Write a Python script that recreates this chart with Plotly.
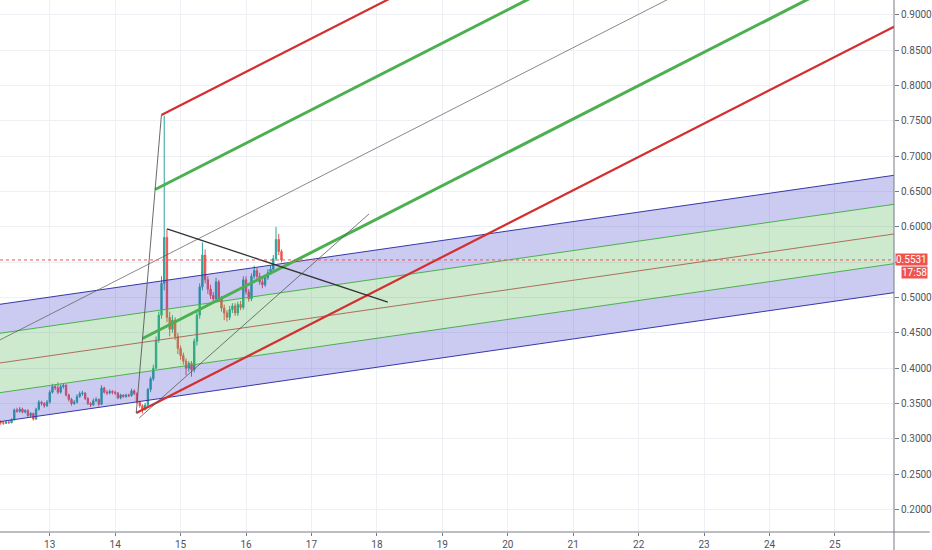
import pandas as pd
import plotly.graph_objects as go

# hourly candles, first one at Feb 12 06:00
candle_start = "2020-02-12 06:00"
opens = [
    0.324, 0.323, 0.322, 0.324, 0.323, 0.327, 0.341, 0.339, 0.342, 0.338,
    0.340, 0.333, 0.336, 0.328, 0.342, 0.352, 0.350, 0.347, 0.352, 0.366,
    0.374, 0.372, 0.366, 0.374, 0.376, 0.362, 0.356, 0.350, 0.352, 0.360,
    0.364, 0.365, 0.357, 0.350, 0.348, 0.354, 0.356, 0.349, 0.372, 0.366,
    0.365, 0.367, 0.366, 0.365, 0.358, 0.362, 0.360, 0.362, 0.361, 0.368,
    0.364, 0.352, 0.347, 0.342, 0.348, 0.370, 0.385, 0.400, 0.440, 0.475,
    0.520, 0.585, 0.472, 0.455, 0.468, 0.445, 0.428, 0.418, 0.410, 0.400,
    0.407, 0.398, 0.438, 0.475, 0.515, 0.560, 0.525, 0.512, 0.503, 0.498,
    0.522, 0.498, 0.485, 0.478, 0.472, 0.483, 0.488, 0.478, 0.490, 0.486,
    0.525, 0.508, 0.498, 0.530, 0.538, 0.530, 0.522, 0.518, 0.528, 0.535,
    0.540, 0.555, 0.582, 0.565,
]
highs = [
    0.326, 0.325, 0.326, 0.326, 0.329, 0.343, 0.344, 0.345, 0.344, 0.342,
    0.342, 0.338, 0.337, 0.344, 0.355, 0.354, 0.352, 0.355, 0.369, 0.378,
    0.377, 0.380, 0.377, 0.379, 0.377, 0.364, 0.358, 0.355, 0.363, 0.367,
    0.368, 0.366, 0.359, 0.352, 0.357, 0.359, 0.357, 0.376, 0.374, 0.369,
    0.370, 0.369, 0.368, 0.366, 0.364, 0.363, 0.364, 0.364, 0.371, 0.370,
    0.366, 0.354, 0.349, 0.351, 0.372, 0.388, 0.405, 0.445, 0.480, 0.530,
    0.757, 0.597, 0.480, 0.475, 0.472, 0.450, 0.432, 0.422, 0.414, 0.410,
    0.410, 0.442, 0.480, 0.520, 0.578, 0.568, 0.530, 0.518, 0.508, 0.528,
    0.525, 0.502, 0.490, 0.482, 0.488, 0.492, 0.492, 0.494, 0.495, 0.530,
    0.530, 0.512, 0.534, 0.545, 0.542, 0.535, 0.526, 0.532, 0.540, 0.545,
    0.560, 0.600, 0.590, 0.568,
]
lows = [
    0.320, 0.320, 0.321, 0.321, 0.322, 0.326, 0.337, 0.337, 0.336, 0.336,
    0.331, 0.331, 0.326, 0.327, 0.340, 0.347, 0.344, 0.345, 0.350, 0.364,
    0.369, 0.363, 0.364, 0.371, 0.360, 0.353, 0.347, 0.348, 0.350, 0.358,
    0.361, 0.355, 0.348, 0.345, 0.347, 0.352, 0.346, 0.348, 0.364, 0.362,
    0.363, 0.363, 0.362, 0.356, 0.356, 0.358, 0.358, 0.359, 0.360, 0.362,
    0.350, 0.344, 0.336, 0.340, 0.346, 0.366, 0.382, 0.398, 0.436, 0.470,
    0.510, 0.465, 0.445, 0.450, 0.440, 0.420, 0.412, 0.405, 0.390, 0.395,
    0.388, 0.394, 0.432, 0.470, 0.510, 0.520, 0.505, 0.498, 0.492, 0.495,
    0.494, 0.480, 0.468, 0.466, 0.468, 0.478, 0.474, 0.474, 0.482, 0.483,
    0.504, 0.494, 0.495, 0.526, 0.526, 0.518, 0.513, 0.515, 0.525, 0.532,
    0.537, 0.552, 0.560, 0.550,
]
closes = [
    0.323, 0.322, 0.324, 0.323, 0.327, 0.341, 0.339, 0.342, 0.338, 0.340,
    0.333, 0.336, 0.328, 0.342, 0.352, 0.350, 0.347, 0.352, 0.366, 0.374,
    0.372, 0.366, 0.374, 0.376, 0.362, 0.356, 0.350, 0.352, 0.360, 0.364,
    0.365, 0.357, 0.350, 0.348, 0.354, 0.356, 0.349, 0.372, 0.366, 0.365,
    0.367, 0.366, 0.365, 0.358, 0.362, 0.360, 0.362, 0.361, 0.368, 0.364,
    0.352, 0.347, 0.342, 0.348, 0.370, 0.385, 0.400, 0.440, 0.475, 0.520,
    0.585, 0.472, 0.455, 0.468, 0.445, 0.428, 0.418, 0.410, 0.400, 0.407,
    0.398, 0.438, 0.475, 0.515, 0.560, 0.525, 0.512, 0.503, 0.498, 0.522,
    0.498, 0.485, 0.478, 0.472, 0.483, 0.488, 0.478, 0.490, 0.486, 0.525,
    0.508, 0.498, 0.530, 0.538, 0.530, 0.522, 0.518, 0.528, 0.535, 0.540,
    0.555, 0.582, 0.565, 0.5531,
]
last_price = 0.5531
countdown = "17:58"

# price axis ticks; the 0.5500 label sits under the last-price tag
price_ticks = [0.20, 0.25, 0.30, 0.35, 0.40, 0.45, 0.50, 0.55,
               0.60, 0.65, 0.70, 0.75, 0.80, 0.85, 0.90]
price_labels = ["0.2000", "0.2500", "0.3000", "0.3500", "0.4000", "0.4500",
                "0.5000", "", "0.6000", "0.6500", "0.7000", "0.7500",
                "0.8000", "0.8500", "0.9000"]

# drawings, points given as (day of month, price)
reg_start = (12.24, 0.4074)
reg_end = (25.90, 0.5898)
reg_inner = 0.042
reg_outer = 0.083

fork_a = (12.0, 0.4287)
fork_b = (14.707, 0.7581)
fork_c = (14.322, 0.3366)

tri_down = [(14.793, 0.5969), (18.167, 0.4936)]
tri_up = [(14.368, 0.3296), (17.878, 0.6181)]

view_days = (12.2401, 25.9027)
view_price = (0.1683, 0.9208)

UP = "#26a69a"
DOWN = "#ef5350"
RED = "#d32f2f"
GREEN = "#4caf50"


def ts(day):
    return pd.Timestamp("2020-02-01") + pd.to_timedelta(day - 1, unit="D")


times = pd.date_range(candle_start, periods=len(closes), freq="h")

fig = go.Figure()

fig.add_trace(go.Candlestick(
    x=times, open=opens, high=highs, low=lows, close=closes,
    increasing=dict(line=dict(color=UP, width=1), fillcolor=UP),
    decreasing=dict(line=dict(color=DOWN, width=1), fillcolor=DOWN),
    whiskerwidth=0, showlegend=False, hoverinfo="skip",
))

# regression channel
slope_reg = (reg_end[1] - reg_start[1]) / (reg_end[0] - reg_start[0])
d0, d1 = 11.5, 26.5
mid0 = reg_start[1] + slope_reg * (d0 - reg_start[0])
mid1 = reg_start[1] + slope_reg * (d1 - reg_start[0])
band = [
    (-reg_outer, "rgb(55,55,170)", None, None),
    (-reg_inner, GREEN, "tonexty", "rgba(70,70,205,0.28)"),
    (0.0, "rgba(170,95,75,0.9)", "tonexty", "rgba(76,175,80,0.28)"),
    (reg_inner, GREEN, "tonexty", "rgba(76,175,80,0.28)"),
    (reg_outer, "rgb(55,55,170)", "tonexty", "rgba(70,70,205,0.28)"),
]
for off, lc, fill, fc in band:
    fig.add_trace(go.Scatter(
        x=[ts(d0), ts(d1)], y=[mid0 + off, mid1 + off], mode="lines",
        line=dict(color=lc, width=1), fill=fill, fillcolor=fc,
        showlegend=False, hoverinfo="skip",
    ))

# pitchfork
mx = (fork_b[0] + fork_c[0]) / 2
my = (fork_b[1] + fork_c[1]) / 2
slope_pf = (my - fork_a[1]) / (mx - fork_a[0])


def ray(p, color, width, start=None):
    s = p[0] if start is None else start
    ys = [p[1] + slope_pf * (s - p[0]), p[1] + slope_pf * (d1 - p[0])]
    fig.add_trace(go.Scatter(
        x=[ts(s), ts(d1)], y=ys, mode="lines",
        line=dict(color=color, width=width),
        showlegend=False, hoverinfo="skip",
    ))


ray((mx, my), "rgba(90,90,90,0.9)", 0.8, start=fork_a[0])
ray(((fork_b[0] + mx) / 2, (fork_b[1] + my) / 2), GREEN, 3)
ray(((fork_c[0] + mx) / 2, (fork_c[1] + my) / 2), GREEN, 3)
ray(fork_b, RED, 2.2)
ray(fork_c, RED, 2.2)
fig.add_trace(go.Scatter(
    x=[ts(fork_c[0]), ts(fork_b[0])], y=[fork_c[1], fork_b[1]], mode="lines",
    line=dict(color="rgba(90,90,90,0.9)", width=1),
    showlegend=False, hoverinfo="skip",
))

# triangle
for pts, w, col in [(tri_down, 1.3, "#333333"), (tri_up, 0.8, "#555555")]:
    fig.add_trace(go.Scatter(
        x=[ts(p[0]) for p in pts], y=[p[1] for p in pts], mode="lines",
        line=dict(color=col, width=w), showlegend=False, hoverinfo="skip",
    ))

fig.add_shape(type="line", xref="paper", x0=0, x1=1, yref="y",
              y0=last_price, y1=last_price,
              line=dict(color=DOWN, width=1, dash="dot"))
# axis frame lines running into the margins
fig.add_shape(type="line", xref="paper", yref="paper", x0=0, x1=1.04,
              y0=0, y1=0, line=dict(color="#787b86", width=1))
fig.add_shape(type="line", xref="paper", yref="paper", x0=1, x1=1,
              y0=-0.04, y1=1, line=dict(color="#787b86", width=1))

fig.add_annotation(x=1, xref="paper", y=last_price, yref="y",
                   xanchor="left", yanchor="middle", showarrow=False,
                   text=f"{last_price:.4f}", bgcolor=DOWN, borderpad=0,
                   xshift=1, font=dict(color="white", size=10))
fig.add_annotation(x=1, xref="paper", y=last_price, yref="y",
                   xanchor="left", yanchor="middle", showarrow=False,
                   text=countdown, bgcolor=DOWN, borderpad=0,
                   xshift=7, yshift=-13, font=dict(color="white", size=10))

fig.update_layout(
    width=932, height=550,
    margin=dict(l=0, r=33, t=0, b=18),
    paper_bgcolor="white", plot_bgcolor="white",
    font=dict(family="Roboto", size=10, color="#50535e"),
    showlegend=False,
    xaxis=dict(
        range=[ts(view_days[0]), ts(view_days[1])],
        rangeslider=dict(visible=False),
        tickformat="%-d", dtick=86400000, tick0="2020-02-13",
        showgrid=True, gridcolor="#eef0f5", gridwidth=1,
        ticks="outside", ticklen=3, tickcolor="#787b86",
        showline=False, zeroline=False,
    ),
    yaxis=dict(
        side="right", range=list(view_price),
        tickmode="array", tickvals=price_ticks, ticktext=price_labels,
        showgrid=True, gridcolor="#eef0f5", gridwidth=1,
        ticks="outside", ticklen=4, tickcolor="#787b86",
        showline=False, zeroline=False,
    ),
)

fig.write_html(
    "out.html",
    config={"displayModeBar": False},
    post_script="document.body.style.margin='0';",
)
